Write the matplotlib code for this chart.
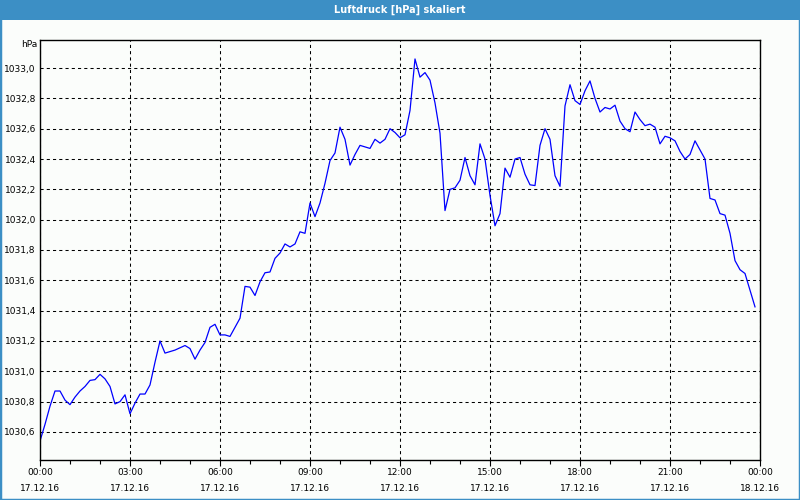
import matplotlib
matplotlib.use("Agg")
import matplotlib.pyplot as plt
import matplotlib.dates as mdates
from matplotlib.patches import Rectangle
from matplotlib.ticker import FuncFormatter
import pandas as pd

title = "Luftdruck [hPa] skaliert"
unit = "hPa"
start_time = "2016-12-17 00:00"
end_time = "2016-12-18 00:00"
step = "10min"

pressure = [
    1030.54, 1030.65, 1030.77, 1030.87, 1030.87, 1030.81, 1030.78, 1030.83, 1030.87, 1030.90,
    1030.94, 1030.945, 1030.98, 1030.95, 1030.90, 1030.785, 1030.80, 1030.845, 1030.72, 1030.79,
    1030.85, 1030.85, 1030.91, 1031.06, 1031.20, 1031.12, 1031.13, 1031.14, 1031.155, 1031.17,
    1031.15, 1031.08, 1031.14, 1031.19, 1031.29, 1031.31, 1031.24, 1031.24, 1031.23, 1031.29,
    1031.35, 1031.56, 1031.555, 1031.50, 1031.59, 1031.65, 1031.655, 1031.745, 1031.78, 1031.84,
    1031.82, 1031.84, 1031.92, 1031.91, 1032.11, 1032.02, 1032.11, 1032.24, 1032.39, 1032.44,
    1032.61, 1032.53, 1032.36, 1032.43, 1032.49, 1032.48, 1032.47, 1032.53, 1032.505, 1032.53,
    1032.60, 1032.575, 1032.54, 1032.56, 1032.72, 1033.06, 1032.94, 1032.97, 1032.92, 1032.77,
    1032.57, 1032.06, 1032.20, 1032.21, 1032.26, 1032.41, 1032.29, 1032.23, 1032.50, 1032.40,
    1032.16, 1031.96, 1032.04, 1032.34, 1032.28, 1032.40, 1032.41, 1032.30, 1032.23, 1032.225,
    1032.49, 1032.60, 1032.53, 1032.29, 1032.22, 1032.75, 1032.89, 1032.785, 1032.76, 1032.85,
    1032.915, 1032.80, 1032.71, 1032.74, 1032.73, 1032.755, 1032.65, 1032.60, 1032.58, 1032.71,
    1032.66, 1032.62, 1032.63, 1032.61, 1032.50, 1032.55, 1032.54, 1032.52, 1032.45, 1032.40,
    1032.43, 1032.52, 1032.46, 1032.40, 1032.14, 1032.13, 1032.04, 1032.03, 1031.91, 1031.73,
    1031.67, 1031.645, 1031.535, 1031.425,
]

y_ticks = [1030.6, 1030.8, 1031.0, 1031.2, 1031.4, 1031.6, 1031.8, 1032.0,
           1032.2, 1032.4, 1032.6, 1032.8, 1033.0]

times = pd.date_range(start_time, periods=len(pressure), freq=step)

BLUE = "#3c8fc5"
BG = "#fbfdfb"

fig = plt.figure(figsize=(8, 5), dpi=100, facecolor=BG)
ax = fig.add_axes([40 / 800, 1 - 460 / 500, 720 / 800, 420 / 500])
ax.set_facecolor(BG)

ax.plot(times, pressure, color="#0000ff", linewidth=0.9)

ax.set_xlim(pd.Timestamp(start_time), pd.Timestamp(end_time))
ax.set_ylim(1030.415, 1033.185)

ax.xaxis.set_major_locator(mdates.HourLocator(byhour=range(0, 24, 3)))
ax.xaxis.set_minor_locator(mdates.HourLocator())
ax.xaxis.set_major_formatter(mdates.DateFormatter("%H:%M\n%d.%m.%y"))
ax.set_yticks(y_ticks)
ax.yaxis.set_major_formatter(FuncFormatter(lambda v, p: f"{v:.1f}".replace(".", ",")))

ax.tick_params(axis="y", length=0, pad=3, labelsize=6.5, colors="black")
ax.tick_params(axis="x", which="major", length=4, width=0.8, pad=2, labelsize=6.5)
ax.tick_params(axis="x", which="minor", length=3, width=0.8)
for lbl in ax.get_xticklabels():
    lbl.set_linespacing(2.0)

ax.grid(True, which="major", color="black", linestyle=(0, (3, 3)), linewidth=0.75)
for s in ax.spines.values():
    s.set_color("black")
    s.set_linewidth(1.0)

ax.text(-0.004, 1.0, unit, transform=ax.transAxes, ha="right", va="top", fontsize=6.5)

# title bar
fig.patches.append(Rectangle((0, 1 - 20 / 500), 1, 20 / 500, transform=fig.transFigure,
                             facecolor=BLUE, edgecolor="none", zorder=0))
fig.text(0.5, 1 - 10 / 500, title, ha="center", va="center", color="white",
         fontsize=7, fontweight="bold")
# outer frame
fig.patches.append(Rectangle((0, 0), 1, 1, transform=fig.transFigure, fill=False,
                             edgecolor=BLUE, linewidth=2.5, zorder=5))

fig.savefig("out.png", dpi=100, facecolor=BG)
